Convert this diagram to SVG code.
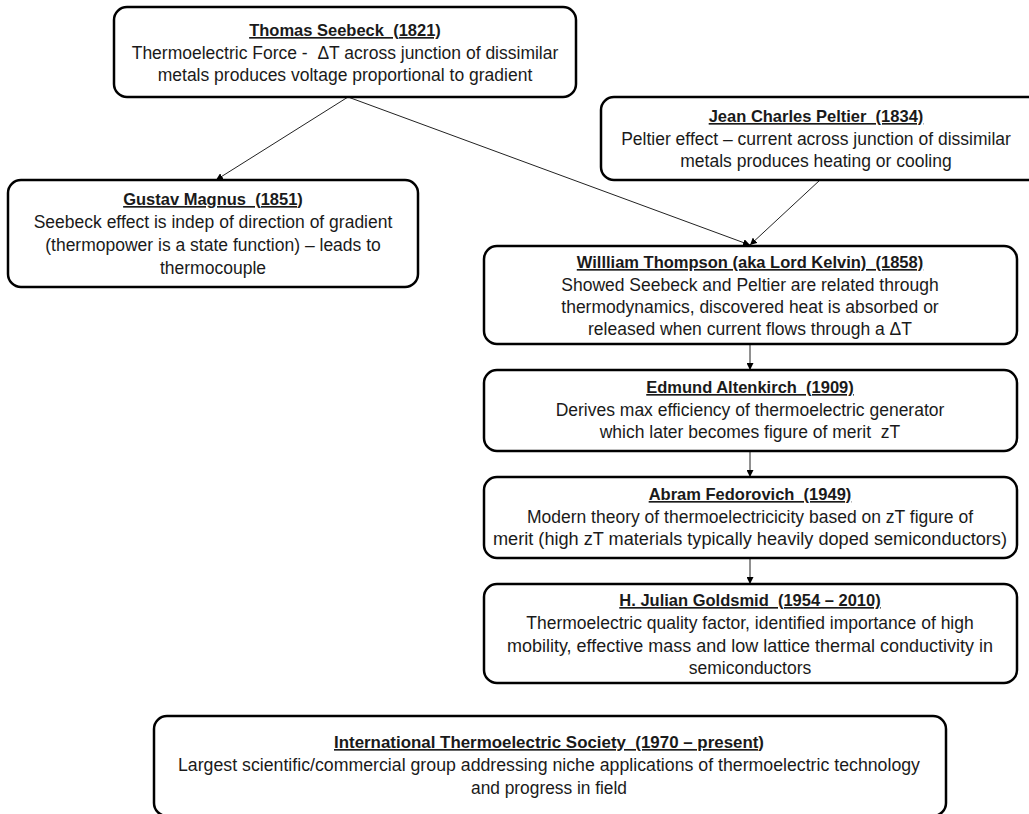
<svg xmlns="http://www.w3.org/2000/svg" width="1029" height="814" viewBox="0 0 1029 814">
<style>
.box{fill:#fff;stroke:#000;stroke-width:2.5}
text{font-family:"Liberation Sans",Arial,sans-serif;font-size:17.5px;fill:#1a1a1a;text-anchor:middle;white-space:pre}
.t{font-weight:bold;text-decoration:underline;font-size:16.5px}
.s{font-size:16.5px}
.c{stroke:#222;stroke-width:1;fill:none;marker-end:url(#ah)}
</style>
<defs>
<marker id="ah" viewBox="0 0 10 10" refX="10" refY="5" markerWidth="7" markerHeight="7" orient="auto" markerUnits="userSpaceOnUse">
<path d="M0,0 L10,5 L0,10 z" fill="#000"/>
</marker>
</defs>
<rect width="1029" height="814" fill="#fff"/>
<g id="connectors">
<line class="c" x1="348" y1="97" x2="216" y2="180"/>
<line class="c" x1="348" y1="97" x2="750" y2="245"/>
<line class="c" x1="820" y1="180" x2="750" y2="245"/>
<line class="c" x1="750" y1="344" x2="750" y2="370"/>
<line class="c" x1="750" y1="451" x2="750" y2="477"/>
<line class="c" x1="750" y1="558" x2="750" y2="584"/>
</g>
<g id="seebeck">
<rect class="box" x="114" y="7" width="462" height="90" rx="13"/>
<text class="t" x="345" y="36">Thomas Seebeck  (1821)</text>
<text x="345" y="59">Thermoelectric Force -  ΔT across junction of dissimilar</text>
<text x="345" y="81">metals produces voltage proportional to gradient</text>
</g>
<g id="peltier">
<rect class="box" x="601" y="97" width="440" height="83" rx="13"/>
<text class="t" x="816" y="122">Jean Charles Peltier  (1834)</text>
<text x="816" y="145">Peltier effect – current across junction of dissimilar</text>
<text x="816" y="167">metals produces heating or cooling</text>
</g>
<g id="magnus">
<rect class="box" x="8" y="180" width="410" height="107" rx="13"/>
<text class="t" x="213" y="205">Gustav Magnus  (1851)</text>
<text x="213" y="228">Seebeck effect is indep of direction of gradient</text>
<text x="213" y="251">(thermopower is a state function) – leads to</text>
<text x="213" y="274">thermocouple</text>
</g>
<g id="thompson">
<rect class="box" x="484" y="246" width="533" height="98" rx="13"/>
<text class="t" x="750" y="268">Willliam Thompson (aka Lord Kelvin)  (1858)</text>
<text x="750" y="291">Showed Seebeck and Peltier are related through</text>
<text x="750" y="313">thermodynamics, discovered heat is absorbed or</text>
<text x="750" y="335">released when current flows through a ΔT</text>
</g>
<g id="altenkirch">
<rect class="box" x="484" y="370" width="533" height="81" rx="13"/>
<text class="t" x="750" y="393">Edmund Altenkirch  (1909)</text>
<text x="750" y="416">Derives max efficiency of thermoelectric generator</text>
<text x="750" y="438">which later becomes figure of merit  zT</text>
</g>
<g id="fedorovich">
<rect class="box" x="484" y="477" width="533" height="81" rx="13"/>
<text class="t" x="750" y="500">Abram Fedorovich  (1949)</text>
<text x="750" y="523">Modern theory of thermoelectricicity based on zT figure of</text>
<text x="750" y="545" textLength="514" lengthAdjust="spacingAndGlyphs">merit (high zT materials typically heavily doped semiconductors)</text>
</g>
<g id="goldsmid">
<rect class="box" x="484" y="584" width="533" height="99" rx="13"/>
<text class="t" x="750" y="606">H. Julian Goldsmid  (1954 – 2010)</text>
<text x="750" y="629">Thermoelectric quality factor, identified importance of high</text>
<text x="750" y="652" textLength="486" lengthAdjust="spacingAndGlyphs">mobility, effective mass and low lattice thermal conductivity in</text>
<text x="750" y="674">semiconductors</text>
</g>
<g id="its">
<rect class="box" x="154" y="716" width="792" height="100" rx="13"/>
<text class="t" x="549" y="748" textLength="430" lengthAdjust="spacingAndGlyphs">International Thermoelectric Society  (1970 – present)</text>
<text x="549" y="771" textLength="742" lengthAdjust="spacingAndGlyphs">Largest scientific/commercial group addressing niche applications of thermoelectric technology</text>
<text x="549" y="794" textLength="156" lengthAdjust="spacingAndGlyphs">and progress in field</text>
</g>
</svg>
